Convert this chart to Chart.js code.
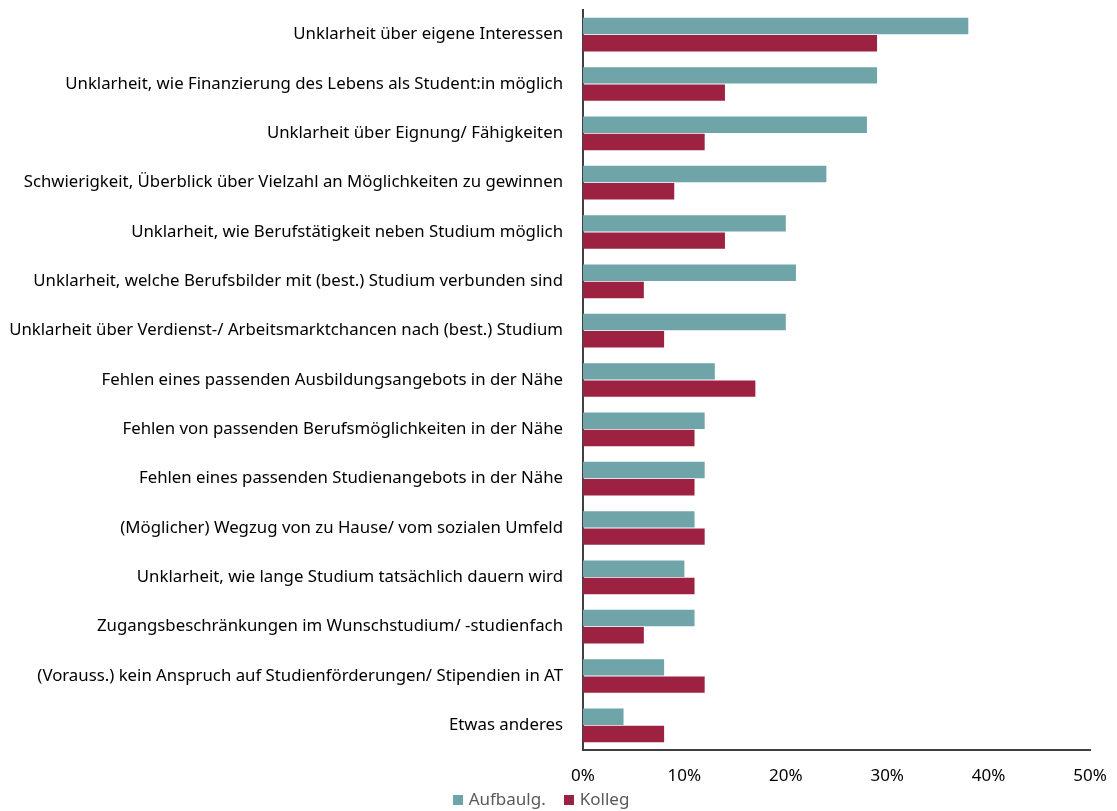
<!DOCTYPE html>
<html>
<head>
<meta charset="utf-8">
<script src="https://cdn.jsdelivr.net/npm/chart.js@4.4.0/dist/chart.umd.min.js"></script>
<style>
  html, body { margin: 0; padding: 0; background: #fff; }
  #wrap { width: 1117px; height: 811px; position: relative; }
  #legend { position: absolute; left: 0; width: 1082px; top: 788px; text-align: center;
    font-family: 'Noto Sans', sans-serif; font-size: 17px; color: #595959; line-height: 22px; }
  #legend span.item { margin: 0 9px; }
  #legend span.box { display: inline-block; width: 10px; height: 10px; margin-right: 6px; }
</style>
</head>
<body>
<div id="wrap"><canvas id="chart"></canvas><div id="legend"></div></div>
<script>
const categories = [
  "Unklarheit über eigene Interessen",
  "Unklarheit, wie Finanzierung des Lebens als Student:in möglich",
  "Unklarheit über Eignung/ Fähigkeiten",
  "Schwierigkeit, Überblick über Vielzahl an Möglichkeiten zu gewinnen",
  "Unklarheit, wie Berufstätigkeit neben Studium möglich",
  "Unklarheit, welche Berufsbilder mit (best.) Studium verbunden sind",
  "Unklarheit über Verdienst-/ Arbeitsmarktchancen nach (best.) Studium",
  "Fehlen eines passenden Ausbildungsangebots in der Nähe",
  "Fehlen von passenden Berufsmöglichkeiten in der Nähe",
  "Fehlen eines passenden Studienangebots in der Nähe",
  "(Möglicher) Wegzug von zu Hause/ vom sozialen Umfeld",
  "Unklarheit, wie lange Studium tatsächlich dauern wird",
  "Zugangsbeschränkungen im Wunschstudium/ -studienfach",
  "(Vorauss.) kein Anspruch auf Studienförderungen/ Stipendien in AT",
  "Etwas anderes"
];
const aufbaulg = [38, 29, 28, 24, 20, 21, 20, 13, 12, 12, 11, 10, 11, 8, 4];
const kolleg = [29, 14, 12, 9, 14, 6, 8, 17, 11, 11, 12, 11, 6, 12, 8];

const fontFamily = "'Noto Sans', Lato, sans-serif";

const chart = new Chart(document.getElementById('chart'), {
  type: 'bar',
  data: {
    labels: categories,
    datasets: [
      { label: 'Aufbaulg.', data: aufbaulg, backgroundColor: '#6fa5a8',
        categoryPercentage: 0.7, barPercentage: 0.95 },
      { label: 'Kolleg', data: kolleg, backgroundColor: '#9d2242',
        categoryPercentage: 0.7, barPercentage: 0.95 }
    ]
  },
  options: {
    indexAxis: 'y',
    responsive: true,
    maintainAspectRatio: false,
    animation: false,
    layout: { padding: { top: 10, right: 27, left: 0, bottom: 21 } },
    scales: {
      x: {
        min: 0, max: 50,
        ticks: { stepSize: 10, padding: 16, color: '#000', font: { family: fontFamily, size: 17 },
          callback: v => v + '%' },
        grid: { display: false, drawTicks: false },
        border: { color: '#404040', width: 2 },
        afterFit: s => { s.height = 40; s.paddingLeft = 0; s.paddingRight = 0; }
      },
      y: {
        ticks: { color: '#000', padding: 20, font: { family: fontFamily, size: 16.8 }, autoSkip: false },
        grid: { display: false, drawTicks: false },
        border: { color: '#404040', width: 2 },
        afterFit: s => { s.width = 583; s.paddingTop = 0; s.paddingBottom = 0; }
      }
    },
    plugins: {
      legend: { display: false },
      tooltip: { enabled: false }
    }
  }
});

// simple html legend built from the datasets
document.getElementById('legend').innerHTML = chart.data.datasets.map(ds =>
  '<span class="item"><span class="box" style="background:' + ds.backgroundColor + '"></span>' + ds.label + '</span>'
).join('');
</script>
</body>
</html>
